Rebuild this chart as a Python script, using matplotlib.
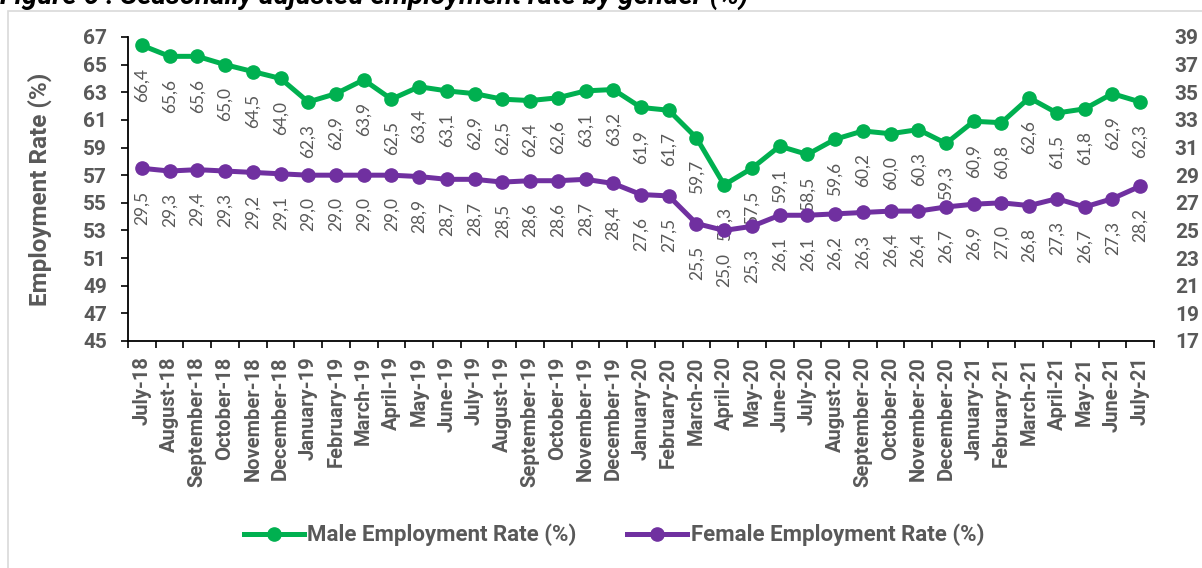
import matplotlib
matplotlib.use('Agg')
import matplotlib.pyplot as plt
from matplotlib.patches import Rectangle

# months July-18 .. July-21
months = ['July-18', 'August-18', 'September-18', 'October-18', 'November-18', 'December-18',
          'January-19', 'February-19', 'March-19', 'April-19', 'May-19', 'June-19',
          'July-19', 'August-19', 'September-19', 'October-19', 'November-19', 'December-19',
          'January-20', 'February-20', 'March-20', 'April-20', 'May-20', 'June-20',
          'July-20', 'August-20', 'September-20', 'October-20', 'November-20', 'December-20',
          'January-21', 'February-21', 'March-21', 'April-21', 'May-21', 'June-21', 'July-21']

male = [66.4, 65.6, 65.6, 65.0, 64.5, 64.0, 62.3, 62.9, 63.9, 62.5, 63.4, 63.1,
        62.9, 62.5, 62.4, 62.6, 63.1, 63.2, 61.9, 61.7, 59.7, 56.3, 57.5, 59.1,
        58.5, 59.6, 60.2, 60.0, 60.3, 59.3, 60.9, 60.8, 62.6, 61.5, 61.8, 62.9, 62.3]

female = [29.5, 29.3, 29.4, 29.3, 29.2, 29.1, 29.0, 29.0, 29.0, 29.0, 28.9, 28.7,
          28.7, 28.5, 28.6, 28.6, 28.7, 28.4, 27.6, 27.5, 25.5, 25.0, 25.3, 26.1,
          26.1, 26.2, 26.3, 26.4, 26.4, 26.7, 26.9, 27.0, 26.8, 27.3, 26.7, 27.3, 28.2]

GREEN = '#00B050'
PURPLE = '#7030A0'
GREY = '#595959'

plt.rcParams['font.family'] = ['Roboto', 'DejaVu Sans']
LABEL_FONT = ['Lato', 'DejaVu Sans']   # thin font for the data labels

W, H = 1202, 568
fig = plt.figure(figsize=(W / 100, H / 100), dpi=100)
# axes box in pixels: left 128, right 1154, top 37, bottom 341
ax = fig.add_axes([128 / W, 1 - 341 / H, (1154 - 128) / W, (341 - 37) / H])
ax2 = ax.twinx()

x = list(range(len(months)))
l1, = ax.plot(x, male, color=GREEN, lw=3.6, marker='o', ms=9.5, label='Male Employment Rate (%)')
l2, = ax2.plot(x, female, color=PURPLE, lw=3.6, marker='o', ms=9.5, label='Female Employment Rate (%)')

# rotated data labels under each point (decimal comma)
for a, vals in ((ax, male), (ax2, female)):
    for xi, v in zip(x, vals):
        a.annotate(f'{v:.1f}'.replace('.', ','), (xi, v), xytext=(0, -16), textcoords='offset points',
                   rotation=90, ha='center', va='top', fontsize=12.5, color=GREY,
                   family=LABEL_FONT)

ax.set_xlim(-0.5, len(months) - 0.5)
ax.set_ylim(45, 67)
ax2.set_ylim(17, 39)
ax.set_yticks(range(45, 68, 2))
ax2.set_yticks(range(17, 40, 2))

ax.set_xticks(x)
ax.set_xticklabels(months, rotation=90, fontsize=14.5, fontweight='bold', color=GREY)
ax.set_xticks([i - 0.5 for i in range(len(months) + 1)], minor=True)
ax.tick_params(axis='x', which='major', length=0, pad=11)
ax.tick_params(axis='x', which='minor', length=5, width=1.2, color='black')

ax.tick_params(axis='y', labelsize=15, labelcolor=GREY, length=5, width=1.2, pad=10)
ax2.tick_params(axis='y', labelsize=15, labelcolor=GREY, length=0, pad=15)
for lab in ax.get_yticklabels() + ax2.get_yticklabels():
    lab.set_fontweight('bold')

for a in (ax, ax2):
    a.spines['top'].set_visible(False)
    a.spines['right'].set_visible(False)
ax2.spines['left'].set_visible(False)
ax2.spines['bottom'].set_visible(False)
ax.spines['left'].set_linewidth(1.3)
ax.spines['bottom'].set_linewidth(1.3)

ax.set_ylabel('Employment Rate (%)', fontsize=17.5, fontweight='bold', color=GREY)
ax.yaxis.set_label_coords(-(128 - 52) / (1154 - 128), 0.5 + (189 - (37 + 341) / 2) / (37 - 341))

leg = fig.legend([l1, l2], [l1.get_label(), l2.get_label()], loc='center',
                 bbox_to_anchor=(614 / W, 1 - 535 / H), ncol=2, frameon=False,
                 prop={'weight': 'bold', 'size': 16},
                 handlelength=2.7, columnspacing=2.3, handletextpad=0.15)
for t in leg.get_texts():
    t.set_color(GREY)

# chart frame and the clipped figure title above it
fig.patches.append(Rectangle((8 / W, -0.1), 1.1, 1 - 11 / H + 0.1, transform=fig.transFigure,
                             fill=False, edgecolor='#D9D9D9', lw=1.2))
fig.text(0, 1 - 5 / H, 'Figure 6 : Seasonally adjusted employment rate by gender (%)',
         fontsize=20, fontweight='bold', style='italic', va='baseline', ha='left')

fig.savefig('out.png', dpi=100)
